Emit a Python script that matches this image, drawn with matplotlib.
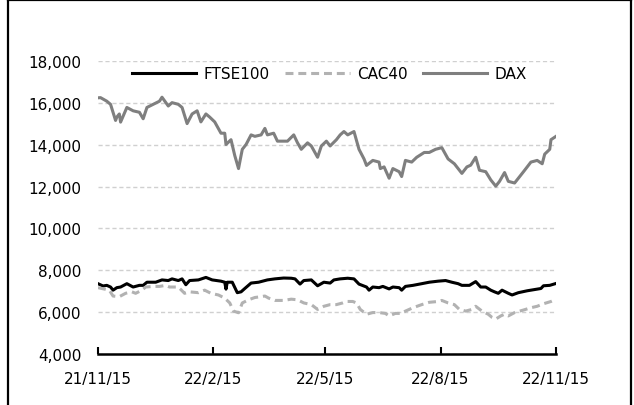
import datetime as dt

import matplotlib
matplotlib.use("Agg")
import matplotlib.pyplot as plt
import matplotlib.dates as mdates
from matplotlib.lines import Line2D
from matplotlib.ticker import FuncFormatter

plt.rcParams["font.family"] = ["DejaVu Sans"]

# days after 2021-11-15
start = dt.date(2021, 11, 15)

ftse_days = [0, 4, 7, 10, 12, 15, 18, 23, 28, 33, 36, 39, 46, 51, 56, 59, 64,
             67, 70, 73, 80, 86, 91, 98, 101, 102, 103, 107, 111, 114, 117,
             122, 128, 135, 141, 148, 154, 157, 161, 164, 170, 175, 180, 185,
             188, 193, 199, 204, 208, 214, 216, 219, 224, 227, 232, 235, 240,
             242, 245, 251, 258, 264, 271, 277, 282, 287, 290, 296, 301, 305,
             309, 313, 316, 319, 322, 327, 330, 335, 342, 348, 353, 355, 360,
             365]
ftse_vals = [7360, 7250, 7280, 7200, 7050, 7170, 7200, 7360, 7200, 7280, 7280,
             7430, 7430, 7540, 7510, 7590, 7510, 7590, 7310, 7510, 7540, 7660,
             7540, 7480, 7430, 7100, 7430, 7430, 6930, 6970, 7130, 7390, 7430,
             7540, 7590, 7630, 7620, 7590, 7340, 7510, 7540, 7260, 7430, 7390,
             7540, 7590, 7620, 7590, 7340, 7200, 7050, 7200, 7170, 7230, 7110,
             7200, 7170, 7050, 7230, 7280, 7360, 7430, 7480, 7510, 7430, 7360,
             7280, 7280, 7460, 7200, 7200, 7050, 6970, 6900, 7050, 6900, 6820,
             6930, 7020, 7080, 7130, 7260, 7280, 7370]

cac_days = [0, 9, 12, 17, 22, 27, 30, 35, 38, 44, 49, 54, 57, 64, 69, 73, 80,
            85, 90, 96, 101, 105, 108, 112, 115, 120, 125, 130, 133, 136, 141,
            148, 154, 159, 164, 170, 175, 180, 185, 190, 195, 198, 203, 206,
            209, 214, 219, 224, 229, 232, 237, 242, 245, 251, 258, 264, 271,
            274, 279, 284, 288, 293, 298, 301, 306, 311, 314, 317, 321, 324,
            327, 332, 339, 345, 350, 355, 361, 365]
cac_vals = [7170, 7050, 6770, 6740, 6900, 6970, 6900, 7050, 7200, 7230, 7230,
            7280, 7200, 7200, 6900, 6970, 6930, 7050, 6900, 6820, 6670, 6440,
            6050, 5970, 6440, 6590, 6700, 6740, 6770, 6670, 6560, 6560, 6620,
            6590, 6440, 6360, 6130, 6280, 6360, 6360, 6440, 6510, 6510, 6440,
            6130, 5900, 5980, 5980, 5940, 5820, 5940, 5940, 6050, 6210, 6360,
            6470, 6510, 6560, 6440, 6360, 6130, 6050, 6130, 6280, 6050, 5900,
            5750, 5670, 5820, 5900, 5820, 5980, 6100, 6210, 6280, 6400, 6510,
            6620]

dax_days = [0, 2, 7, 10, 14, 15, 17, 18, 23, 28, 33, 36, 39, 44, 49, 51, 56,
            59, 64, 67, 71, 75, 79, 82, 86, 89, 93, 98, 101, 102, 106, 109,
            112, 114, 115, 118, 122, 125, 130, 133, 135, 140, 143, 146, 151,
            156, 159, 162, 167, 170, 175, 178, 182, 185, 190, 193, 196, 199,
            204, 208, 212, 214, 219, 224, 225, 228, 232, 235, 240, 242, 245,
            250, 254, 260, 264, 269, 274, 279, 284, 287, 290, 294, 297, 301,
            304, 309, 313, 317, 320, 324, 327, 332, 337, 340, 345, 350, 354,
            356, 360, 361, 365]
dax_vals = [16240, 16250, 16080, 15930, 15160, 15320, 15470, 15080, 15780,
            15620, 15550, 15240, 15780, 15930, 16080, 16270, 15850, 16010,
            15930, 15780, 15010, 15470, 15620, 15090, 15470, 15320, 15090,
            14550, 14550, 14010, 14240, 13480, 12860, 13480, 13780, 14010,
            14470, 14400, 14470, 14780, 14470, 14550, 14170, 14170, 14170,
            14470, 14090, 13780, 14090, 13940, 13400, 13940, 14170, 13940,
            14240, 14470, 14630, 14470, 14630, 13780, 13320, 13010, 13250,
            13170, 12860, 12940, 12400, 12860, 12710, 12480, 13250, 13170,
            13400, 13630, 13630, 13780, 13860, 13320, 13090, 12860, 12630,
            12940, 13020, 13400, 12780, 12710, 12320, 12020, 12250, 12670,
            12250, 12170, 12550, 12780, 13170, 13250, 13090, 13550, 13780,
            14240, 14400]

tick_dates = ["2021-11-15", "2022-02-15", "2022-05-15", "2022-08-15",
              "2022-11-15"]
tick_labels = ["21/11/15", "22/2/15", "22/5/15", "22/8/15", "22/11/15"]


def to_dates(days):
    return [start + dt.timedelta(days=d) for d in days]


fig = plt.figure(figsize=(6.34, 4.06), dpi=100)
ax = fig.add_axes([98 / 634, 51 / 406, 458 / 634, 293 / 406])

ax.plot(to_dates(ftse_days), ftse_vals, color="black", linewidth=2.2,
        label="FTSE100")
ax.plot(to_dates(cac_days), cac_vals, color="#b2b2b2", linewidth=2.2,
        linestyle=(0, (2.6, 1.6)), label="CAC40")
ax.plot(to_dates(dax_days), dax_vals, color="#7f7f7f", linewidth=2.2,
        label="DAX")

ax.set_ylim(4000, 18000)
ax.set_yticks(range(4000, 18001, 2000))
ax.yaxis.set_major_formatter(FuncFormatter(lambda v, p: "{:,.0f}".format(v)))
ax.set_xlim(start, dt.date(2022, 11, 15))
ax.set_xticks([dt.date.fromisoformat(d) for d in tick_dates])
ax.set_xticklabels(tick_labels)

ax.grid(True, axis="y", color="#d0d0d0", linestyle=(0, (3, 2)), linewidth=1)
ax.set_axisbelow(True)
for side in ["top", "right", "left"]:
    ax.spines[side].set_visible(False)
ax.spines["bottom"].set_linewidth(1.8)
ax.tick_params(axis="y", length=0, pad=12, labelsize=11)
ax.tick_params(axis="x", direction="in", length=5, width=1.5, pad=12,
               labelsize=11)

ax.legend(loc="center", bbox_to_anchor=(0.52, 1 - 75 / 406),
          bbox_transform=fig.transFigure, ncol=3, frameon=False,
          fontsize=11, handlelength=4.2, handletextpad=0.5,
          columnspacing=1.0)

# frame round the chart (bottom edge is cut off)
for xs, ys in [((7.5, 7.5), (-5, 405.5)), ((7.5, 630.5), (405.5, 405.5)),
               ((630.5, 630.5), (405.5, -5))]:
    fig.add_artist(Line2D([x / 634 for x in xs], [y / 406 for y in ys],
                          color="black", linewidth=1.6))

plt.savefig("out.png", dpi=100)
